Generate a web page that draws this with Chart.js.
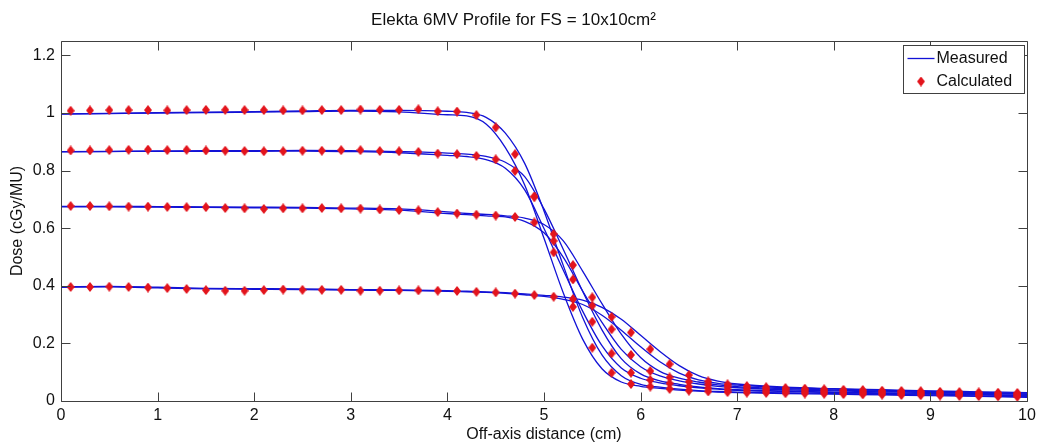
<!DOCTYPE html>
<html><head><meta charset="utf-8">
<script src="https://cdn.jsdelivr.net/npm/chart.js@4.4.1/dist/chart.umd.min.js"></script>
<style>html,body{margin:0;padding:0;background:#fff}canvas{display:block}</style>
</head><body>
<canvas id="c" width="1043" height="446"></canvas>
<script>
const TITLE = 'Elekta 6MV Profile for FS = 10x10cm\u00B2';
const X_LABEL = 'Off-axis distance (cm)';
const Y_LABEL = 'Dose (cGy/MU)';
const LEGEND_LABELS = ['Measured', 'Calculated'];
const X_TICKS = [0, 1, 2, 3, 4, 5, 6, 7, 8, 9, 10];
const Y_TICKS = [0, 0.2, 0.4, 0.6, 0.8, 1, 1.2];

// Measured profiles (two scans per depth), sampled at these off-axis positions
const X_MEAS = [0, 0.5, 1, 1.5, 2, 2.5, 3, 3.5, 4, 4.2, 4.4, 4.6, 4.8, 5.0, 5.2, 5.4, 5.6, 5.8, 6.0, 6.2, 6.4, 6.6, 6.8, 7.0, 7.5, 8, 8.5, 9, 9.5, 10];
const MEAS_D1A = [0.997, 0.999, 1.001, 1.003, 1.005, 1.007, 1.009, 1.009, 1.006, 1.002, 0.985, 0.930, 0.825, 0.660, 0.470, 0.290, 0.160, 0.088, 0.058, 0.048, 0.041, 0.036, 0.033, 0.031, 0.028, 0.026, 0.023, 0.021, 0.018, 0.015];
const MEAS_D1B = [0.996, 0.998, 1.000, 1.001, 1.003, 1.005, 1.007, 1.004, 0.994, 0.990, 0.962, 0.880, 0.750, 0.565, 0.375, 0.215, 0.112, 0.066, 0.051, 0.044, 0.038, 0.034, 0.031, 0.029, 0.026, 0.024, 0.021, 0.019, 0.016, 0.013];
const MEAS_D2A = [0.866, 0.867, 0.868, 0.869, 0.869, 0.870, 0.869, 0.866, 0.861, 0.857, 0.849, 0.829, 0.779, 0.667, 0.526, 0.381, 0.247, 0.147, 0.094, 0.070, 0.058, 0.049, 0.043, 0.039, 0.035, 0.031, 0.028, 0.026, 0.023, 0.020];
const MEAS_D2B = [0.865, 0.866, 0.867, 0.867, 0.867, 0.868, 0.866, 0.862, 0.853, 0.849, 0.838, 0.808, 0.733, 0.599, 0.454, 0.312, 0.192, 0.115, 0.079, 0.063, 0.053, 0.046, 0.041, 0.037, 0.033, 0.029, 0.026, 0.024, 0.021, 0.018];
const MEAS_D3A = [0.676, 0.676, 0.675, 0.674, 0.673, 0.672, 0.670, 0.667, 0.657, 0.651, 0.648, 0.643, 0.635, 0.613, 0.556, 0.451, 0.338, 0.232, 0.151, 0.103, 0.079, 0.066, 0.056, 0.050, 0.043, 0.038, 0.034, 0.031, 0.028, 0.025];
const MEAS_D3B = [0.674, 0.674, 0.673, 0.672, 0.671, 0.670, 0.667, 0.663, 0.651, 0.647, 0.643, 0.639, 0.624, 0.584, 0.499, 0.382, 0.273, 0.179, 0.119, 0.087, 0.070, 0.059, 0.051, 0.046, 0.039, 0.035, 0.032, 0.029, 0.026, 0.023];
const MEAS_D4A = [0.397, 0.398, 0.395, 0.391, 0.390, 0.389, 0.387, 0.386, 0.383, 0.381, 0.379, 0.376, 0.372, 0.367, 0.361, 0.350, 0.325, 0.284, 0.228, 0.172, 0.123, 0.088, 0.069, 0.059, 0.048, 0.043, 0.039, 0.035, 0.032, 0.029];
const MEAS_D4B = [0.395, 0.396, 0.393, 0.389, 0.388, 0.387, 0.385, 0.384, 0.381, 0.379, 0.377, 0.374, 0.369, 0.363, 0.353, 0.335, 0.298, 0.246, 0.188, 0.136, 0.097, 0.073, 0.061, 0.055, 0.046, 0.041, 0.037, 0.033, 0.030, 0.027];

// Calculated points
const X_CALC = [0.1, 0.3, 0.5, 0.7, 0.9, 1.1, 1.3, 1.5, 1.7, 1.9, 2.1, 2.3, 2.5, 2.7, 2.9, 3.1, 3.3, 3.5, 3.7, 3.9, 4.1, 4.3, 4.5, 4.7, 4.9, 5.1, 5.3, 5.5, 5.7, 5.9, 6.1, 6.3, 6.5, 6.7, 6.9, 7.1, 7.3, 7.5, 7.7, 7.9, 8.1, 8.3, 8.5, 8.7, 8.9, 9.1, 9.3, 9.5, 9.7, 9.9];
const CALC_D1 = [1.008, 1.009, 1.010, 1.010, 1.010, 1.009, 1.010, 1.011, 1.011, 1.010, 1.010, 1.009, 1.009, 1.010, 1.010, 1.012, 1.011, 1.011, 1.013, 1.006, 1.005, 0.993, 0.950, 0.857, 0.709, 0.516, 0.327, 0.185, 0.098, 0.059, 0.050, 0.042, 0.036, 0.033, 0.031, 0.029, 0.028, 0.027, 0.026, 0.025, 0.024, 0.023, 0.022, 0.021, 0.020, 0.019, 0.018, 0.017, 0.016, 0.015];
const CALC_D2 = [0.870, 0.870, 0.871, 0.872, 0.873, 0.871, 0.872, 0.870, 0.869, 0.868, 0.867, 0.867, 0.869, 0.869, 0.871, 0.871, 0.868, 0.867, 0.865, 0.859, 0.857, 0.851, 0.839, 0.799, 0.710, 0.556, 0.422, 0.275, 0.165, 0.098, 0.073, 0.061, 0.050, 0.044, 0.040, 0.037, 0.035, 0.033, 0.032, 0.031, 0.029, 0.028, 0.027, 0.026, 0.025, 0.024, 0.022, 0.021, 0.020, 0.019];
const CALC_D3 = [0.677, 0.677, 0.676, 0.675, 0.675, 0.674, 0.673, 0.673, 0.670, 0.669, 0.667, 0.669, 0.669, 0.670, 0.669, 0.668, 0.665, 0.663, 0.662, 0.656, 0.651, 0.647, 0.644, 0.639, 0.620, 0.580, 0.472, 0.360, 0.249, 0.160, 0.104, 0.082, 0.067, 0.057, 0.050, 0.045, 0.042, 0.040, 0.038, 0.036, 0.035, 0.033, 0.032, 0.031, 0.030, 0.029, 0.027, 0.026, 0.025, 0.024];
const CALC_D4 = [0.396, 0.396, 0.397, 0.396, 0.394, 0.392, 0.389, 0.385, 0.383, 0.383, 0.385, 0.387, 0.386, 0.386, 0.386, 0.383, 0.383, 0.384, 0.384, 0.383, 0.382, 0.379, 0.377, 0.373, 0.368, 0.362, 0.354, 0.331, 0.292, 0.238, 0.180, 0.128, 0.090, 0.068, 0.058, 0.052, 0.048, 0.045, 0.043, 0.041, 0.039, 0.038, 0.036, 0.035, 0.034, 0.032, 0.031, 0.030, 0.029, 0.028];

const FONT = "'Liberation Sans', Arial, Helvetica, sans-serif";
const BLUE = '#1212d6';
const RED = '#e3141c';

function pts(xs, ys) { return xs.map((x, i) => ({ x: x, y: ys[i] })); }

function makeDiamond() {
  const c = document.createElement('canvas');
  c.width = 8; c.height = 10;
  const g = c.getContext('2d');
  g.fillStyle = RED;
  g.beginPath();
  g.moveTo(4, 0); g.lineTo(8, 5); g.lineTo(4, 10); g.lineTo(0, 5);
  g.closePath(); g.fill();
  return c;
}
const DIAMOND = makeDiamond();

const measured = [MEAS_D1A, MEAS_D1B, MEAS_D2A, MEAS_D2B, MEAS_D3A, MEAS_D3B, MEAS_D4A, MEAS_D4B];
const calculated = [CALC_D1, CALC_D2, CALC_D3, CALC_D4];

const datasets = [];
calculated.forEach((ys, i) => datasets.push({
  label: LEGEND_LABELS[1] + ' ' + (i + 1),
  data: pts(X_CALC, ys),
  showLine: false,
  pointStyle: DIAMOND,
  pointRadius: 4,
  order: 0
}));
measured.forEach((ys, i) => datasets.push({
  label: LEGEND_LABELS[0] + ' ' + (i + 1),
  data: pts(X_MEAS, ys),
  showLine: true,
  borderColor: BLUE,
  borderWidth: 1.3,
  pointRadius: 0,
  cubicInterpolationMode: 'monotone',
  fill: false,
  order: 1
}));

const TICK_LEN = 9;
const axesBox = {
  id: 'axesBox',
  afterDatasetsDraw(chart) {
    const { ctx, chartArea: a, scales: { x, y } } = chart;
    ctx.save();
    ctx.strokeStyle = '#404040';
    ctx.lineWidth = 1;
    ctx.beginPath();
    const L = Math.round(a.left) + 0.5, R = Math.round(a.right) + 0.5;
    const T = Math.round(a.top) + 0.5, B = Math.round(a.bottom) + 0.5;
    ctx.rect(L, T, R - L, B - T);
    X_TICKS.forEach(v => {
      const px = Math.round(x.getPixelForValue(v)) + 0.5;
      ctx.moveTo(px, B); ctx.lineTo(px, B - TICK_LEN);
      ctx.moveTo(px, T); ctx.lineTo(px, T + TICK_LEN);
    });
    Y_TICKS.forEach(v => {
      const py = Math.round(y.getPixelForValue(v)) + 0.5;
      ctx.moveTo(L, py); ctx.lineTo(L + TICK_LEN, py);
      ctx.moveTo(R, py); ctx.lineTo(R - TICK_LEN, py);
    });
    ctx.stroke();
    ctx.restore();
  }
};

const legendBox = {
  id: 'legendBox',
  afterDraw(chart) {
    const { ctx, chartArea: a } = chart;
    const w = 121, h = 48;
    const bx = Math.round(a.right) - 124 + 0.5, by = Math.round(a.top) + 4 + 0.5;
    ctx.save();
    ctx.fillStyle = '#fff';
    ctx.fillRect(bx, by, w, h);
    ctx.strokeStyle = '#404040';
    ctx.lineWidth = 1;
    ctx.strokeRect(bx, by, w, h);
    ctx.strokeStyle = BLUE;
    ctx.lineWidth = 1.3;
    ctx.beginPath();
    ctx.moveTo(bx + 4, by + 13); ctx.lineTo(bx + 31, by + 13);
    ctx.stroke();
    ctx.drawImage(DIAMOND, bx + 17.5 - 4, by + 36 - 5);
    ctx.fillStyle = '#111';
    ctx.font = '16px ' + FONT;
    ctx.textBaseline = 'middle';
    ctx.textAlign = 'left';
    ctx.fillText(LEGEND_LABELS[0], bx + 33, by + 13);
    ctx.fillText(LEGEND_LABELS[1], bx + 33, by + 36);
    ctx.restore();
  }
};

new Chart(document.getElementById('c'), {
  type: 'scatter',
  data: { datasets: datasets },
  options: {
    responsive: false,
    animation: false,
    devicePixelRatio: 1,
    layout: { padding: { top: 0, right: 16, bottom: 0, left: 0 } },
    plugins: {
      legend: { display: false },
      tooltip: { enabled: false },
      title: {
        display: true, text: TITLE, color: '#111',
        font: { family: FONT, size: 17, weight: 'normal' },
        padding: { top: 10, bottom: 10.6 }
      }
    },
    scales: {
      x: {
        type: 'linear', min: 0, max: 10,
        afterBuildTicks: s => { s.ticks = X_TICKS.map(v => ({ value: v })); },
        afterFit: s => { s.height = 45; },
        ticks: { callback: v => String(v), color: '#111', font: { family: FONT, size: 16 }, padding: 5, maxRotation: 0, autoSkip: false },
        grid: { display: false, drawTicks: false },
        border: { display: false },
        title: { display: true, text: X_LABEL, color: '#111', font: { family: FONT, size: 16 }, padding: { top: 0, bottom: 2 } }
      },
      y: {
        type: 'linear', min: 0, max: 1.25,
        afterBuildTicks: s => { s.ticks = Y_TICKS.map(v => ({ value: v })); },
        afterFit: s => { s.width = 61; },
        ticks: { callback: v => String(v), color: '#111', font: { family: FONT, size: 16 }, padding: 6, autoSkip: false },
        grid: { display: false, drawTicks: false },
        border: { display: false },
        title: { display: true, text: Y_LABEL, color: '#111', font: { family: FONT, size: 16 }, padding: { top: 8, bottom: 0 } }
      }
    }
  },
  plugins: [axesBox, legendBox]
});
</script>
</body></html>
